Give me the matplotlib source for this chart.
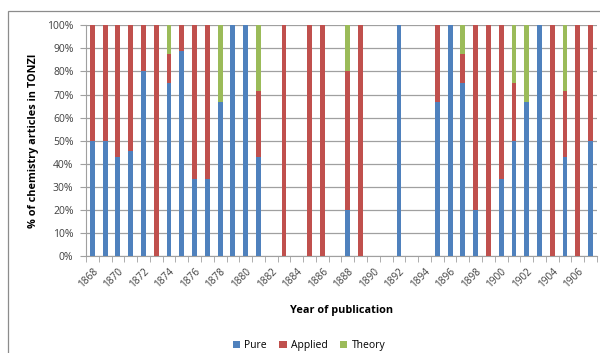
import matplotlib
matplotlib.use("Agg")
import matplotlib.pyplot as plt
import numpy as np
from matplotlib.patches import Rectangle
from matplotlib.ticker import PercentFormatter

## Years of publication (one bar per year)
years = list(range(1868, 1908))

## Share of articles (%) per year
pure = [50, 50, 42.9, 45.5, 80, 0, 75, 88.9, 33.3, 33.3,
        66.7, 100, 100, 42.9, 0, 0, 0, 0, 0, 0,
        20, 0, 0, 0, 100, 0, 0, 66.7, 100, 75,
        20, 0, 33.3, 50, 66.7, 100, 0, 42.9, 0, 50]
applied = [50, 50, 57.1, 54.5, 20, 100, 12.5, 11.1, 66.7, 66.7,
           0, 0, 0, 28.6, 0, 100, 0, 100, 100, 0,
           60, 100, 0, 0, 0, 0, 0, 33.3, 0, 12.5,
           80, 100, 66.7, 25, 0, 0, 100, 28.6, 100, 50]
theory = [0, 0, 0, 0, 0, 0, 12.5, 0, 0, 0,
          33.3, 0, 0, 28.6, 0, 0, 0, 0, 0, 0,
          20, 0, 0, 0, 0, 0, 0, 0, 0, 12.5,
          0, 0, 0, 25, 33.3, 0, 0, 28.6, 0, 0]

## Tick labels: every second year
tickLabels = [str(y) if (y - years[0]) % 2 == 0 else "" for y in years]

plt.rcParams['font.family'] = ['Open Sans', 'DejaVu Sans']

fig = plt.figure(figsize=(6.0, 3.53), dpi=100)
ax = fig.add_axes([0.1433, 0.2748, 0.8517, 0.6535])

x = np.arange(len(years))
pure = np.array(pure)
applied = np.array(applied)
theory = np.array(theory)
w = 0.38

ax.bar(x, pure, w, color="#4F81BD", label="Pure", zorder=3)
ax.bar(x, applied, w, bottom=pure, color="#C0504D", label="Applied", zorder=3)
ax.bar(x, theory, w, bottom=pure + applied, color="#9BBB59", label="Theory", zorder=3)

ax.set_xlim(-0.5, len(years) - 0.5)
ax.set_ylim(0, 100)
ax.set_yticks(np.arange(0, 101, 10))
ax.yaxis.set_major_formatter(PercentFormatter(decimals=0))
ax.grid(axis="y", color="#a0a0a0", linewidth=0.9, zorder=0)

ax.set_xticks(x)
ax.set_xticklabels(tickLabels, rotation=45, ha="right", rotation_mode="anchor")
ax.set_xticks(np.arange(-0.5, len(years), 1), minor=True)
ax.tick_params(axis="x", which="major", length=0, pad=7, labelsize=7.2, colors="#404040")
ax.tick_params(axis="x", which="minor", length=4, color="#a0a0a0")
ax.tick_params(axis="y", length=4, color="#a0a0a0", pad=5, labelsize=7.5, colors="#404040")

for s in ["top", "right"]:
    ax.spines[s].set_visible(False)
for s in ["left", "bottom"]:
    ax.spines[s].set_color("#a0a0a0")

ax.set_xlabel("Year of publication", fontsize=7.8, fontweight="bold", labelpad=11)
ax.set_ylabel("% of chemistry articles in TONZI", fontsize=7.8, fontweight="bold", labelpad=6)

fig.legend(loc="center", bbox_to_anchor=(0.515, 0.02), ncol=3, frameon=False,
           fontsize=7.5, handlelength=0.7, handleheight=0.7, columnspacing=1.2,
           handletextpad=0.4)

## Chart area border (partly cut off in the original)
fig.patches.append(Rectangle((8 / 600, -0.1), 1.2, 1 - 11 / 353 + 0.1,
                             transform=fig.transFigure, fill=False,
                             edgecolor="#8c8c8c", linewidth=0.9))

fig.savefig("out.png", dpi=100)
